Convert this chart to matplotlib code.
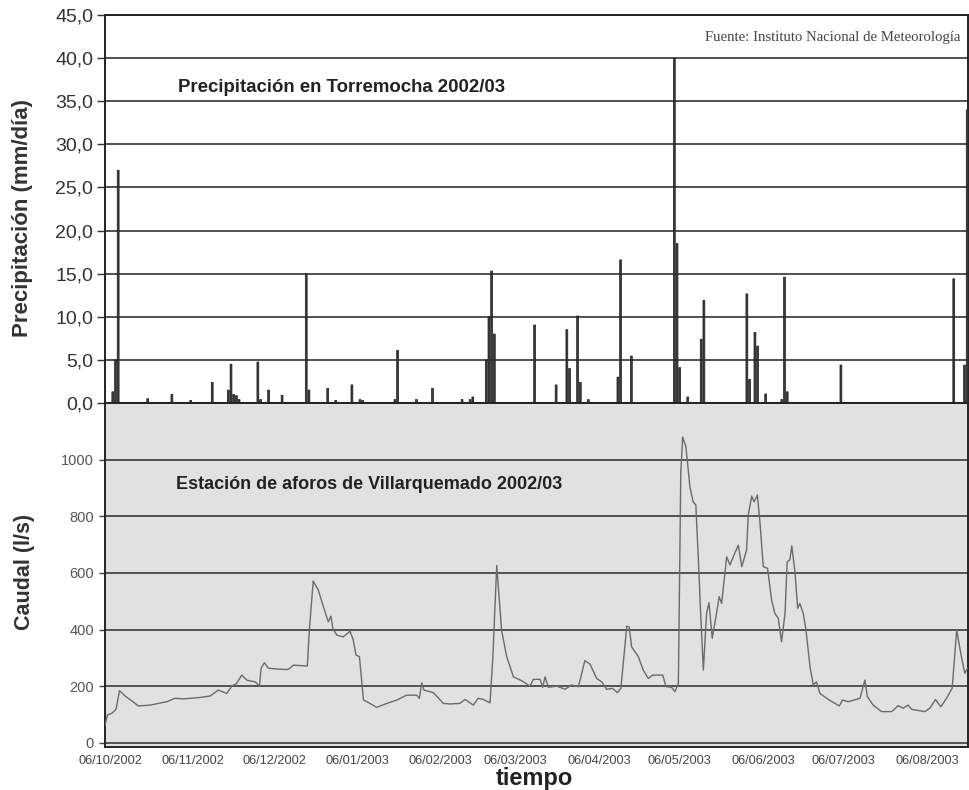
import matplotlib
matplotlib.use('Agg')
import matplotlib.pyplot as plt
import numpy as np
import pandas as pd

# ---------------- data ----------------
start_date = '2002-10-06'   # day 0 of the offsets below

prec_day = [1, 2, 3, 14, 23, 30, 38, 44, 45, 46, 47, 48, 55, 56, 59, 64, 73, 74,
            81, 84, 90, 93, 94, 106, 107, 114, 120, 131, 134, 135, 140, 141, 142,
            143, 158, 166, 170, 171, 174, 175, 178, 189, 190, 194, 210, 211, 212,
            215, 220, 221, 237, 238, 240, 241, 244, 250, 251, 252, 272, 314, 318, 319]
prec_mm = [1.3, 5.0, 27.0, 0.5, 1.0, 0.3, 2.4, 1.5, 4.5, 1.0, 0.85, 0.4, 4.75, 0.4,
           1.5, 0.9, 15.0, 1.5, 1.7, 0.3, 2.1, 0.4, 0.3, 0.4, 6.1, 0.4, 1.7, 0.4,
           0.4, 0.7, 5.0, 10.0, 15.3, 8.0, 9.05, 2.1, 8.5, 4.0, 10.1, 2.4, 0.4, 3.0,
           16.6, 5.45, 40.0, 18.5, 4.1, 0.7, 7.4, 11.9, 12.65, 2.75, 8.2, 6.6, 1.05,
           0.4, 14.6, 1.3, 4.4, 14.4, 4.4, 34.0]

flow_day = [-1.9, -1.0, 0.6, 2.2, 3.5, 5.6, 8.1, 10.5, 14.9, 21.1, 24.2, 27.3, 33.5,
            37.2, 40.3, 43.4, 45.3, 47.1, 49.0, 50.9, 54.0, 55.6, 56.2, 57.4, 58.9,
            64.5, 66.3, 68.2, 73.4, 74.2, 75.6, 77.5, 79.4, 81.2, 82.2, 82.9, 84.4,
            86.8, 89.3, 90.5, 91.5, 92.8, 94.3, 96.7, 99.2, 103.0, 106.7, 110.4,
            114.1, 115.1, 116.0, 116.8, 120.3, 124.0, 126.5, 130.2, 132.1, 135.2,
            137.0, 138.9, 141.4, 142.4, 143.9, 145.7, 147.6, 150.1, 153.2, 156.3,
            157.5, 160.0, 161.0, 161.9, 163.1, 166.2, 169.3, 171.8, 174.3, 176.7,
            178.6, 181.1, 183.0, 184.8, 187.0, 188.8, 190.1, 192.3, 193.2, 194.1,
            196.6, 198.4, 200.3, 201.9, 205.7, 206.9, 209.0, 210.2, 211.5, 212.4,
            213.1, 214.3, 215.8, 217.0, 218.0, 218.9, 219.8, 220.8, 222.0, 222.9,
            224.1, 225.7, 226.7, 227.6, 229.5, 230.7, 232.2, 233.8, 235.1, 236.9,
            237.5, 238.8, 239.7, 240.9, 241.9, 243.1, 244.7, 246.2, 247.4, 248.7,
            249.9, 251.2, 252.0, 253.0, 253.7, 254.9, 255.9, 256.7, 258.0, 259.0,
            260.5, 261.7, 262.9, 264.2, 267.3, 271.4, 272.6, 274.7, 279.1, 280.9,
            281.9, 284.0, 287.1, 290.9, 293.3, 295.2, 297.0, 298.3, 303.3, 305.1,
            307.2, 309.2, 311.3, 313.4, 315.1, 316.6, 318.1, 319.1]
flow_ls = [62, 98, 104, 118, 184, 165, 148, 130, 133, 145, 157, 155, 160,
           165, 186, 174, 200, 210, 239, 221, 215, 200, 263, 283, 263,
           259, 259, 274, 271, 404, 571, 539, 480, 427, 447, 404, 380,
           374, 394, 363, 310, 304, 151, 139, 125, 139, 151, 168,
           168, 157, 212, 186, 177, 139, 137, 139, 153, 133,
           157, 153, 141, 292, 626, 398, 304, 233, 219, 200,
           224, 224, 196, 233, 196, 200, 189, 204, 198, 290,
           278, 227, 215, 189, 192, 177, 192, 412, 409, 339,
           304, 257, 227, 239, 239, 198, 196, 180, 210, 952,
           1080, 1046, 904, 851, 840, 657, 457, 257, 457, 495,
           369, 457, 516, 492, 657, 628, 663, 698, 622, 681,
           804, 871, 851, 875, 775, 622, 616, 504, 457, 439,
           357, 457, 639, 646, 695, 604, 475, 492, 457, 398,
           268, 204, 215, 174, 153, 130, 151, 145, 157, 221,
           162, 133, 110, 110, 131, 122, 133, 118, 110, 122,
           153, 127, 157, 192, 398, 316, 245, 263]

date_ticks = ['06/10/2002', '06/11/2002', '06/12/2002', '06/01/2003', '06/02/2003',
              '06/03/2003', '06/04/2003', '06/05/2003', '06/06/2003', '06/07/2003',
              '06/08/2003']
prec_yticks = [0, 5, 10, 15, 20, 25, 30, 35, 40, 45]
flow_yticks = [0, 200, 400, 600, 800, 1000]
x_range_days = [-1.9, 319.3]

# ---------------- helpers ----------------
base = pd.Timestamp(start_date)


def to_dates(days):
    return base + pd.to_timedelta(np.asarray(days, dtype=float), unit='D')


FONT = 'Liberation Sans'
plt.rcParams['font.family'] = [FONT, 'DejaVu Sans']

W, H = 970, 790
fig = plt.figure(figsize=(W / 100, H / 100), dpi=100)
L, R = 105, 968
ax1 = fig.add_axes([L / W, 1 - 403 / H, (R - L) / W, 388 / H])
ax2 = fig.add_axes([L / W, 1 - 747 / H, (R - L) / W, 344 / H], sharex=ax1)

# ---- top: precipitation ----
ax1.set_facecolor('white')
bars = ax1.bar(to_dates(prec_day), prec_mm, width=0.7, color='#3a3a3a',
               edgecolor='#1e1e1e', linewidth=0.5, zorder=3)
for b in bars:
    b.set_snap(False)
ax1.set_ylim(0, 45)
ax1.set_yticks(prec_yticks)
ax1.set_yticklabels([f'{v:.1f}'.replace('.', ',') for v in prec_yticks],
                    fontsize=14, color='#333333')
ax1.yaxis.grid(True, color='#333333', linewidth=1.2, zorder=1)
ax1.set_axisbelow(True)
ax1.tick_params(axis='y', direction='out', length=5.5, width=1.0, pad=3,
                color='#333333')
ax1.tick_params(axis='x', which='both', length=0, labelbottom=False)
for s in ax1.spines.values():
    s.set_color('#222222')
    s.set_linewidth(1.4)
ax1.text(0.0846, 0.812, 'Precipitación en Torremocha 2002/03',
         transform=ax1.transAxes, fontsize=13.4, fontweight='bold',
         color='#222222', ha='left', va='center')
ax1.text(0.9907, 0.941, 'Fuente: Instituto Nacional de Meteorología',
         transform=ax1.transAxes, fontsize=10.6, family='Liberation Serif',
         color='#444444', ha='right', va='center')

# ---- bottom: flow ----
ax2.set_facecolor('#e1e1e1')
ax2.plot(to_dates(flow_day), flow_ls, color='#6a6a6a', linewidth=1.0, zorder=3)
ax2.set_ylim(-15, 1200)
ax2.set_yticks(flow_yticks)
ax2.set_yticklabels([str(v) for v in flow_yticks], fontsize=10.5, color='#555555')
ax2.yaxis.grid(True, color='#3a3a3a', linewidth=1.2, zorder=1)
ax2.set_axisbelow(True)
ax2.tick_params(axis='y', direction='out', length=4, width=1.0, pad=4,
                color='#444444')
ax2.set_xticks(pd.to_datetime(date_ticks, dayfirst=True))
ax2.set_xticklabels(date_ticks, fontsize=9.2, color='#444444')
ax2.tick_params(axis='x', length=0, pad=6)
for s in ax2.spines.values():
    s.set_color('#222222')
    s.set_linewidth(1.4)
ax2.text(0.0823, 0.762, 'Estación de aforos de Villarquemado 2002/03',
         transform=ax2.transAxes, fontsize=13, fontweight='bold',
         color='#222222', ha='left', va='center')

ax1.set_xlim(to_dates(x_range_days)[0], to_dates(x_range_days)[1])

# ---- axis titles ----
fig.text(23 / W, 1 - 218 / H, 'Precipitación (mm/día)', rotation=90,
         fontsize=16, fontweight='bold', color='#333333', ha='center', va='center')
fig.text(25 / W, 1 - 572 / H, 'Caudal (l/s)', rotation=90,
         fontsize=15.5, fontweight='bold', color='#333333', ha='center', va='center')
fig.text(534 / W, 1 - 778 / H, 'tiempo', fontsize=17, fontweight='bold',
         color='#222222', ha='center', va='center')

fig.savefig('out.png', dpi=100)
